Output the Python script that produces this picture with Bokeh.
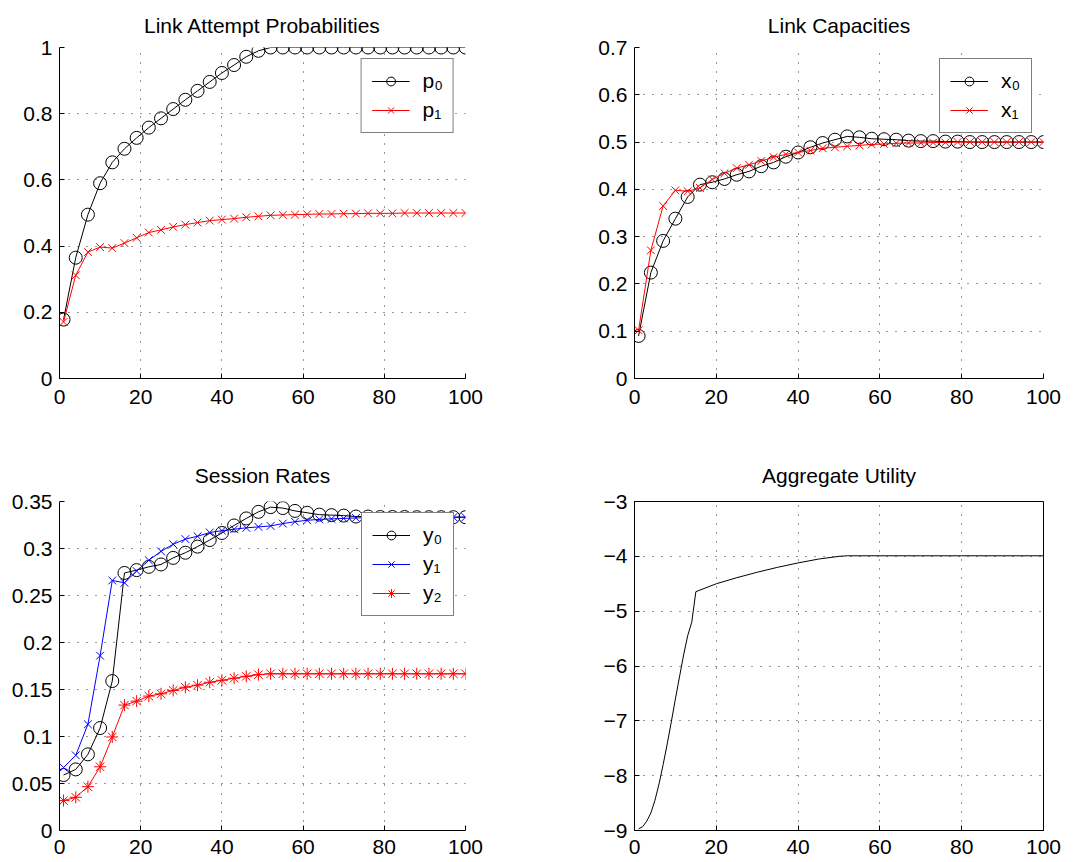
from bokeh.plotting import figure
from bokeh.layouts import column, row
from bokeh.models import FixedTicker, Legend, LegendItem, Range1d
from bokeh.core.properties import value
from bokeh.embed import file_html
from bokeh.resources import INLINE

FONT = "Liberation Sans"

# ---------------- data ----------------
iters = [1, 4, 7, 10, 13, 16, 19, 22, 25, 28, 31, 34, 37, 40, 43, 46, 49, 52, 55, 58,
         61, 64, 67, 70, 73, 76, 79, 82, 85, 88, 91, 94, 97, 100]

p0 = [0.178, 0.365, 0.495, 0.590, 0.653, 0.694, 0.727, 0.758, 0.786, 0.814,
      0.842, 0.869, 0.896, 0.923, 0.947, 0.972, 0.990, 1.0, 1.0, 1.0,
      1.0, 1.0, 1.0, 1.0, 1.0, 1.0, 1.0, 1.0, 1.0, 1.0,
      1.0, 1.0, 1.0, 1.0]
p1 = [0.171, 0.312, 0.382, 0.397, 0.394, 0.409, 0.425, 0.441, 0.449, 0.458,
      0.465, 0.471, 0.477, 0.480, 0.483, 0.487, 0.490, 0.493, 0.494, 0.495,
      0.496, 0.497, 0.497, 0.498, 0.498, 0.499, 0.499, 0.499, 0.5, 0.5,
      0.5, 0.5, 0.5, 0.5]

x0 = [0.090, 0.224, 0.291, 0.338, 0.384, 0.410, 0.415, 0.422, 0.431, 0.438,
      0.449, 0.457, 0.469, 0.478, 0.489, 0.498, 0.505, 0.512, 0.510, 0.507,
      0.506, 0.505, 0.503, 0.502, 0.502, 0.501, 0.501, 0.5, 0.5, 0.5,
      0.5, 0.5, 0.5, 0.5]
x1 = [0.102, 0.271, 0.365, 0.398, 0.396, 0.403, 0.421, 0.434, 0.445, 0.452,
      0.460, 0.468, 0.474, 0.478, 0.482, 0.487, 0.489, 0.491, 0.493, 0.495,
      0.496, 0.4975, 0.498, 0.498, 0.499, 0.499, 0.5, 0.5, 0.5, 0.5,
      0.5, 0.5, 0.5, 0.5]

y0 = [0.059, 0.065, 0.081, 0.109, 0.159, 0.274, 0.277, 0.2805, 0.283, 0.290,
      0.2955, 0.302, 0.309, 0.3165, 0.3245, 0.332, 0.339, 0.344, 0.343, 0.340,
      0.338, 0.336, 0.3355, 0.335, 0.334, 0.334, 0.3335, 0.3335, 0.3335, 0.3333,
      0.3333, 0.3333, 0.3333, 0.3333]
y1 = [0.067, 0.080, 0.113, 0.186, 0.266, 0.2635, 0.276, 0.2875, 0.297, 0.3045,
      0.310, 0.313, 0.317, 0.319, 0.3205, 0.322, 0.323, 0.324, 0.3265, 0.3285,
      0.330, 0.331, 0.3315, 0.332, 0.3325, 0.3328, 0.333, 0.333, 0.3333, 0.3333,
      0.3333, 0.3333, 0.3333, 0.3333]
y2 = [0.0318, 0.0353, 0.0466, 0.0678, 0.0995, 0.1334, 0.1376, 0.143, 0.1454, 0.149,
      0.1524, 0.1546, 0.1577, 0.1598, 0.162, 0.164, 0.1658, 0.1667, 0.1667, 0.1667,
      0.1667, 0.1667, 0.1667, 0.1667, 0.1667, 0.1667, 0.1667, 0.1667, 0.1667, 0.1667,
      0.1667, 0.1667, 0.1667, 0.1667]

util_x = [1, 2, 3, 4, 5, 6, 7, 8, 9, 10, 11, 12, 13, 14, 15,
          20, 25, 30, 35, 40, 45, 50, 52, 60, 70, 80, 90, 100]
util_y = [-8.97, -8.93, -8.83, -8.68, -8.45, -8.15, -7.80, -7.42, -7.02, -6.60,
          -6.20, -5.80, -5.45, -5.20, -4.645,
          -4.50, -4.39, -4.29, -4.20, -4.12, -4.05, -4.00, -3.99, -3.99, -3.99,
          -3.99, -3.99, -3.99]

x_ticks = [0, 20, 40, 60, 80, 100]
tl_ticks = [0, 0.2, 0.4, 0.6, 0.8, 1.0]
tl_labels = ["0", "0.2", "0.4", "0.6", "0.8", "1"]
tr_ticks = [0, 0.1, 0.2, 0.3, 0.4, 0.5, 0.6, 0.7]
tr_labels = ["0", "0.1", "0.2", "0.3", "0.4", "0.5", "0.6", "0.7"]
bl_ticks = [0, 0.05, 0.1, 0.15, 0.2, 0.25, 0.3, 0.35]
bl_labels = ["0", "0.05", "0.1", "0.15", "0.2", "0.25", "0.3", "0.35"]
br_ticks = [-9, -8, -7, -6, -5, -4, -3]
br_labels = ["\u22129", "\u22128", "\u22127", "\u22126", "\u22125", "\u22124", "\u22123"]

titles = ["Link Attempt Probabilities", "Link Capacities", "Session Rates", "Aggregate Utility"]
tl_legend = ["p\u2080", "p\u2081"]
tr_legend = ["x\u2080", "x\u2081"]
bl_legend = ["y\u2080", "y\u2081", "y\u2082"]


def make_fig(title, yr, yticks, ylabels, fw, fh, left, right, top, bottom,
             xstand, tstand, box=False):
    p = figure(frame_width=fw, frame_height=fh,
               x_range=Range1d(0, 100), y_range=Range1d(*yr),
               output_backend="svg", toolbar_location=None,
               min_border_left=left, min_border_right=right,
               min_border_top=top, min_border_bottom=bottom)
    p.title.text = title
    p.title.align = "center"
    p.title.vertical_align = "bottom"
    p.title.text_font = FONT
    p.title.text_font_size = "21px"
    p.title.text_font_style = "normal"
    p.title.text_color = "black"
    p.title.standoff = tstand
    p.xaxis.ticker = FixedTicker(ticks=x_ticks)
    p.yaxis.ticker = FixedTicker(ticks=yticks)
    p.yaxis.major_label_overrides = {t: l for t, l in zip(yticks, ylabels)}
    for ax in (p.xaxis[0], p.yaxis[0]):
        ax.major_label_text_font = FONT
        ax.major_label_text_font_size = "21px"
        ax.major_label_text_color = "black"
        ax.axis_line_color = "black"
        ax.axis_line_width = 1
        ax.major_tick_in = 5
        ax.major_tick_out = 0
        ax.major_tick_line_color = "black"
        ax.minor_tick_line_color = None
    p.xaxis.major_label_standoff = xstand
    p.yaxis.major_label_standoff = 7
    p.grid.grid_line_color = "black"
    p.grid.grid_line_dash = "1 8"
    p.grid.grid_line_alpha = 0.8
    p.grid.grid_line_width = 1
    p.background_fill_color = "white"
    p.border_fill_color = "white"
    if box:
        p.outline_line_color = "black"
        p.outline_line_width = 1
        p.outline_line_alpha = 1
    else:
        p.outline_line_color = None
    return p


def add_series(p, xs, ys, color, marker, size):
    rl = p.line(xs, ys, line_color=color, line_width=1)
    rs = p.scatter(xs, ys, marker=marker, size=size, line_color=color,
                   fill_color=None, line_width=1)
    return [rl, rs]


def add_legend(p, labels, renderer_sets):
    leg = Legend(items=[LegendItem(label=value(l), renderers=r)
                        for l, r in zip(labels, renderer_sets)],
                 location="top_right")
    leg.label_text_font = FONT
    leg.label_text_font_size = "21px"
    leg.label_text_color = "black"
    leg.glyph_width = 38
    leg.glyph_height = 22
    leg.label_standoff = 13
    leg.padding = 10
    leg.spacing = 5
    leg.margin = 11
    leg.border_line_color = "black"
    leg.border_line_width = 1.5
    leg.background_fill_color = "white"
    leg.background_fill_alpha = 1
    p.add_layout(leg)


# Top-left
tl = make_fig(titles[0], (0, 1), tl_ticks, tl_labels, 406, 331, 59, 75, 47, 62, 11, 21)
r_p0 = add_series(tl, iters, p0, "black", "circle", 13)
r_p1 = add_series(tl, iters, p1, "red", "x", 11)
add_legend(tl, tl_legend, [r_p0, r_p1])

# Top-right
tr = make_fig(titles[1], (0, 0.7), tr_ticks, tr_labels, 409, 331, 94, 32, 47, 62, 11, 21)
r_x0 = add_series(tr, iters, x0, "black", "circle", 13)
r_x1 = add_series(tr, iters, x1, "red", "x", 11)
add_legend(tr, tr_legend, [r_x0, r_x1])

# Bottom-left
bl = make_fig(titles[2], (0, 0.35), bl_ticks, bl_labels, 406, 329, 59, 75, 61, 31, 9, 29)
r_y0 = add_series(bl, iters, y0, "black", "circle", 13)
r_y1 = add_series(bl, iters, y1, "blue", "x", 11)
r_y2 = add_series(bl, iters, y2, "red", "asterisk", 12)
add_legend(bl, bl_legend, [r_y0, r_y1, r_y2])

# Bottom-right
br = make_fig(titles[3], (-9, -3), br_ticks, br_labels, 409, 329, 94, 32, 61, 31, 9, 29, box=True)
br.line(util_x, util_y, line_color="black", line_width=1)

layout = column(row(tl, tr), row(bl, br))
open("out.html", "w").write(file_html(layout, INLINE))
